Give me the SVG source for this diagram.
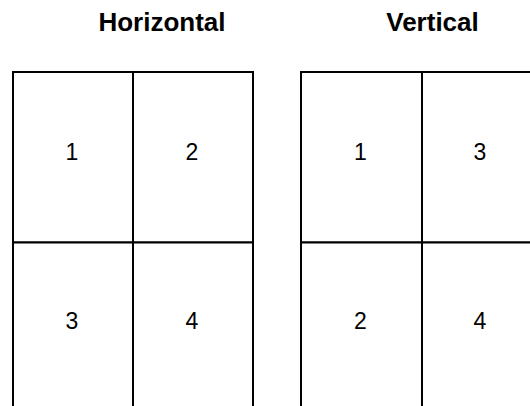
<svg xmlns="http://www.w3.org/2000/svg" width="530" height="406" viewBox="0 0 530 406">
<style>
.cell{fill:#ffffff;stroke:#000000;stroke-width:2}
.num{font-family:"Liberation Sans",Arial,sans-serif;font-size:23px;fill:#000000;text-anchor:middle}
.title{font-family:"Liberation Sans",Arial,sans-serif;font-size:26px;font-weight:bold;fill:#000000;text-anchor:middle}
</style>
<rect width="530" height="406" fill="#ffffff"/>
<text class="title" x="162" y="30.5">Horizontal</text>
<text class="title" x="432.5" y="30.5">Vertical</text>
<g id="h1"><rect class="cell" x="13" y="72" width="120" height="170.5"/><text class="num" x="72" y="159.5">1</text></g>
<g id="h2"><rect class="cell" x="133" y="72" width="120" height="170.5"/><text class="num" x="192" y="159.5">2</text></g>
<g id="h3"><rect class="cell" x="13" y="242.5" width="120" height="170.5"/><text class="num" x="72" y="329">3</text></g>
<g id="h4"><rect class="cell" x="133" y="242.5" width="120" height="170.5"/><text class="num" x="192" y="329">4</text></g>
<g id="v1"><rect class="cell" x="301" y="72" width="121" height="170.5"/><text class="num" x="360.5" y="159.5">1</text></g>
<g id="v3"><rect class="cell" x="422" y="72" width="120" height="170.5"/><text class="num" x="480" y="159.5">3</text></g>
<g id="v2"><rect class="cell" x="301" y="242.5" width="121" height="170.5"/><text class="num" x="360.5" y="329">2</text></g>
<g id="v4"><rect class="cell" x="422" y="242.5" width="120" height="170.5"/><text class="num" x="480" y="329">4</text></g>
</svg>
